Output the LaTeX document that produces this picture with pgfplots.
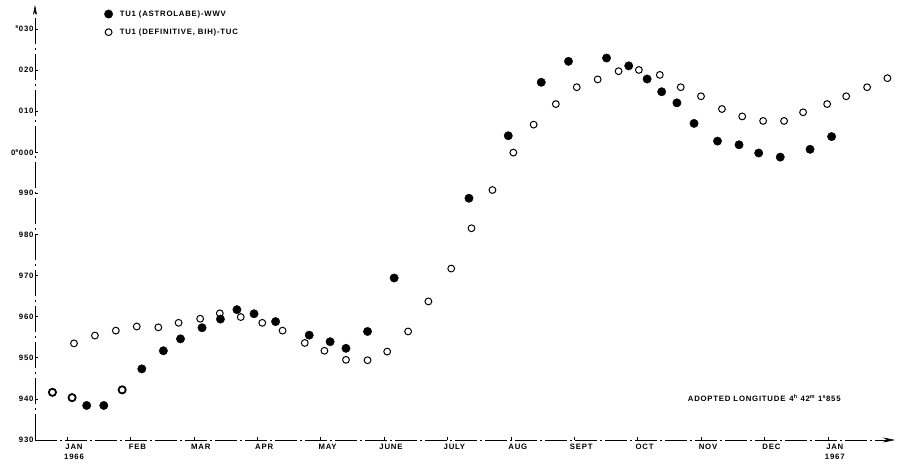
\documentclass[border=0pt]{standalone}
\usepackage{fontspec}
\setmainfont{Liberation Sans}
\usepackage{pgfplots}
\usepackage{pgfplotstable}
\pgfplotsset{compat=1.18}
\usetikzlibrary{arrows.meta}
\newfontfamily\plate[LetterSpace=10]{Liberation Sans}
\newcommand\lbl{\plate\bfseries\fontsize{7.8}{10}\selectfont}

% Months counted from 1 Jan 1966 (0 = JAN, 12 = JAN 1967); values in ms-style units 930..1030
\pgfplotstableread{
m v
0.31 938.4
0.58 938.4
1.18 947.3
1.52 951.7
1.79 954.6
2.13 957.3
2.42 959.4
2.68 961.7
2.95 960.7
3.29 958.8
3.82 955.5
4.15 953.9
4.40 952.3
4.74 956.4
5.16 969.4
6.34 988.8
6.96 1004.0
7.48 1017.0
7.91 1022.1
8.51 1022.9
8.86 1021.0
9.15 1017.8
9.38 1014.7
9.62 1012.0
9.89 1007.0
10.26 1002.7
10.60 1001.8
10.91 999.8
11.25 998.8
11.72 1000.7
12.06 1003.8
}\astrolabe

\pgfplotstableread{
m v
-0.23 941.6
0.08 940.3
0.87 942.2
}\coincident

\pgfplotstableread{
m v
0.11 953.5
0.44 955.4
0.77 956.6
1.10 957.6
1.44 957.4
1.76 958.5
2.10 959.5
2.41 960.8
2.74 959.9
3.08 958.5
3.40 956.6
3.75 953.6
4.06 951.7
4.40 949.5
4.74 949.4
5.05 951.5
5.38 956.4
5.70 963.7
6.06 971.7
6.38 981.5
6.71 990.8
7.04 999.9
7.36 1006.7
7.71 1011.7
8.04 1015.8
8.37 1017.7
8.70 1019.7
9.02 1020.0
9.35 1018.8
9.68 1015.8
10.00 1013.6
10.33 1010.5
10.65 1008.7
10.98 1007.6
11.31 1007.6
11.61 1009.7
11.99 1011.7
12.29 1013.6
12.62 1015.8
12.94 1018.0
}\definitive

\begin{document}
\begin{tikzpicture}
\begin{axis}[
  scale only axis,
  width=860bp, height=435bp,
  xmin=-0.505, xmax=13.06,
  ymin=930, ymax=1035.8,
  axis x line=bottom, axis y line=left,
  x axis line style={-{Stealth[length=12bp,width=5bp]}, line width=0.6bp,
                     dash pattern=on 22bp off 3bp on 2bp off 3bp},
  y axis line style={-{Stealth[length=10bp,width=4bp]}, line width=0.6bp,
                     dash pattern=on 26bp off 4bp on 2bp off 4bp},
  xtick={0,...,12},
  xticklabels={{JAN\\1966},FEB,MAR,APR,MAY,JUNE,JULY,AUG,SEPT,OCT,NOV,DEC,{JAN\\1967}},
  xticklabel style={font=\lbl, align=center, xshift=7bp, yshift=-1bp},
  ytick={930,940,...,1030},
  yticklabels={930,940,950,960,970,980,990,{0\textsuperscript{s}000},010,020,{\textsuperscript{s}030}},
  yticklabel style={font=\lbl, xshift=2bp},
  tick align=inside,
  major tick length=3bp,
  tick style={black, line width=0.6bp},
  clip=false,
  legend style={at={(0.077,0.997)}, anchor=north west, draw=none, fill=none,
                font=\lbl, row sep=7bp, nodes={inner xsep=7bp}},
  legend cell align=left,
]
\addplot[only marks, mark=*, mark size=4.2bp, black] table[x=m, y=v] {\astrolabe};
\addlegendentry{TU1 (ASTROLABE)-WWV}
\addplot[only marks, mark=o, mark size=3.4bp, black, line width=1bp] table[x=m, y=v] {\definitive};
\addlegendentry{TU1 (DEFINITIVE, BIH)-TUC}
\addplot[forget plot, only marks, mark=o, mark size=3.6bp, black, line width=1.8bp] table[x=m, y=v] {\coincident};
\node[anchor=west, font=\lbl, inner sep=0pt] at (axis cs:9.79,940.2)
  {ADOPTED LONGITUDE\hspace{4bp}4\textsuperscript{h} 42\textsuperscript{m} 1\textsuperscript{s}855};
\end{axis}
\pgfresetboundingbox
\path (-35bp,-31bp) rectangle (864bp,440bp);
\end{tikzpicture}
\end{document}
